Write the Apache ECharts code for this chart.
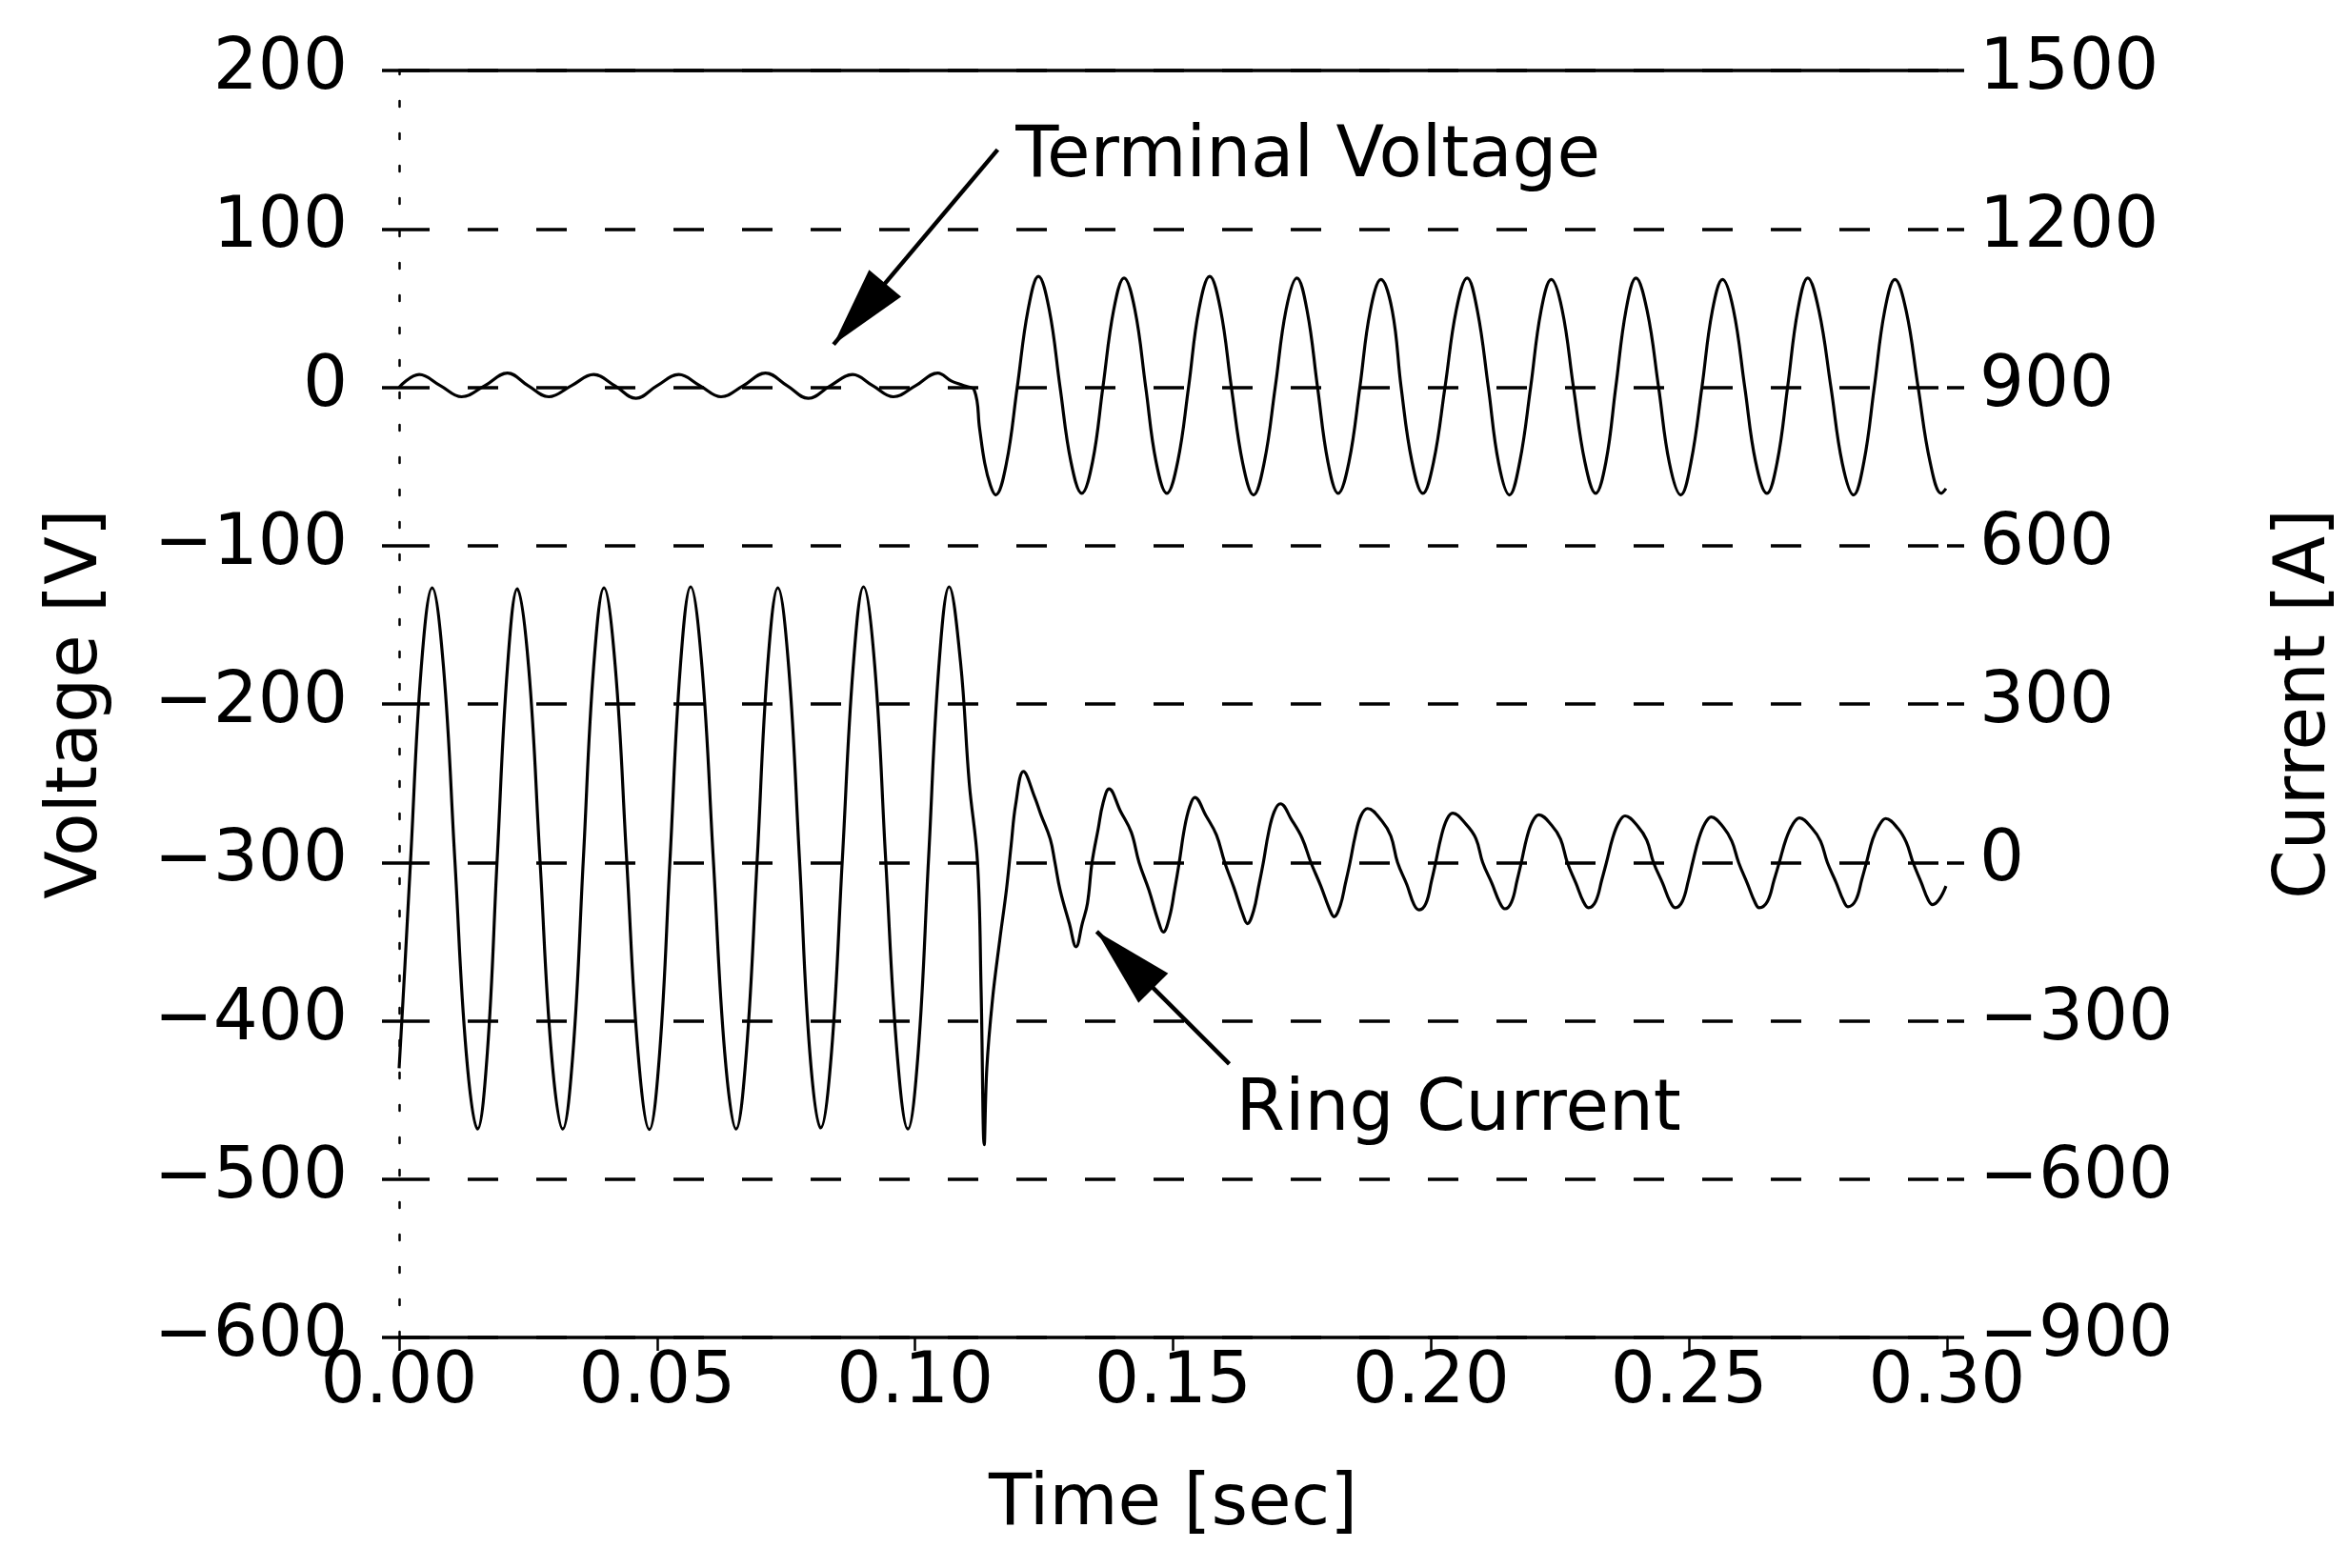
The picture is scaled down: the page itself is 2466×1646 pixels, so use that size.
<!DOCTYPE html>
<html>
<head>
<meta charset="utf-8">
<title>Terminal Voltage and Ring Current</title>
<script src="https://cdn.jsdelivr.net/npm/echarts@6/dist/echarts.min.js"></script>
<style>
  html, body { margin: 0; padding: 0; background: #ffffff; }
  #chart { width: 2466px; height: 1646px; }
</style>
</head>
<body>
<div id="chart"></div>
<script>
// Axis ranges / tick steps
const timeTicks = [0, 0.05, 0.10, 0.15, 0.20, 0.25, 0.30];
const voltageTicks = [-600, -500, -400, -300, -200, -100, 0, 100, 200];
const currentTicks = [-900, -600, -300, 0, 300, 600, 900, 1200, 1500];

// Terminal voltage [s, V] before the fault
const voltagePreFault = [
  [0.0000, 0], [0.0039, 8], [0.0080, 1], [0.0121, -6], [0.0166, 1],
  [0.0210, 9], [0.0250, 1], [0.0290, -6], [0.0334, 1], [0.0377, 8],
  [0.0418, 1], [0.0459, -7], [0.0500, 1], [0.0542, 8], [0.0583, 1],
  [0.0624, -6], [0.0667, 1], [0.0710, 9], [0.0752, 1], [0.0793, -7],
  [0.0836, 1], [0.0879, 8], [0.0918, 1], [0.0958, -6], [0.1001, 1],
  [0.1044, 9], [0.1070, 4], [0.1094, 1], [0.1115, -2]
];

// Terminal voltage [s, V] after the fault
const voltagePostFault = [
  [0.1125, -26], [0.1135, -48], [0.1146, -62], [0.1156, -68],
  [0.1177, -48], [0.1198, 0], [0.1219, 49], [0.1239, 70], [0.1260, 49], [0.1281, 0], [0.1302, -47], [0.1323, -67],
  [0.1344, -47], [0.1364, 0], [0.1385, 49], [0.1405, 69], [0.1426, 49], [0.1447, 0], [0.1467, -47], [0.1488, -67],
  [0.1509, -47], [0.1530, 0], [0.1550, 49], [0.1571, 70], [0.1592, 49], [0.1613, 0], [0.1635, -48], [0.1656, -68],
  [0.1677, -47], [0.1698, 0], [0.1719, 49], [0.1740, 69], [0.1760, 48], [0.1780, 0], [0.1800, -47], [0.1820, -67],
  [0.1841, -47], [0.1862, 0], [0.1882, 48], [0.1903, 68], [0.1925, 48], [0.1942, 0], [0.1963, -47], [0.1984, -67],
  [0.2005, -47], [0.2027, 0], [0.2049, 49], [0.2070, 69], [0.2090, 48], [0.2111, 0], [0.2131, -48], [0.2152, -68],
  [0.2172, -47], [0.2193, 0], [0.2213, 48], [0.2233, 68], [0.2254, 49], [0.2276, 0], [0.2298, -47], [0.2319, -67],
  [0.2339, -47], [0.2358, 0], [0.2378, 49], [0.2397, 69], [0.2419, 48], [0.2441, 0], [0.2462, -48], [0.2484, -68],
  [0.2504, -47], [0.2525, 0], [0.2545, 48], [0.2565, 68], [0.2586, 49], [0.2608, 0], [0.2629, -47], [0.2651, -67],
  [0.2671, -47], [0.2691, 0], [0.2711, 49], [0.2730, 69], [0.2752, 48], [0.2775, 0], [0.2797, -48], [0.2819, -68],
  [0.2839, -47], [0.2859, 0], [0.2879, 48], [0.2899, 68], [0.2921, 48], [0.2944, 0], [0.2967, -47], [0.2989, -67],
  [0.2998, -64]
];

// Ring current [s, A] before the fault
const currentPreFault = [
  [0.0000, -390], [0.0011, -200], [0.0022, 0], [0.0043, 370], [0.0064, 520],
  [0.0086, 370], [0.0108, 5], [0.0130, -360], [0.0152, -505],
  [0.0171, -360], [0.0190, 5], [0.0210, 370], [0.0229, 518],
  [0.0251, 370], [0.0273, 5], [0.0295, -360], [0.0317, -505],
  [0.0337, -360], [0.0357, 5], [0.0377, 370], [0.0397, 520],
  [0.0419, 370], [0.0441, 5], [0.0463, -360], [0.0485, -506],
  [0.0505, -360], [0.0525, 5], [0.0545, 370], [0.0565, 522],
  [0.0587, 370], [0.0609, 5], [0.0631, -360], [0.0653, -505],
  [0.0673, -360], [0.0694, 5], [0.0714, 370], [0.0734, 520],
  [0.0755, 370], [0.0776, 5], [0.0796, -360], [0.0817, -503],
  [0.0838, -360], [0.0859, 5], [0.0880, 370], [0.0900, 522],
  [0.0922, 370], [0.0943, 5], [0.0965, -360], [0.0986, -505],
  [0.1006, -360], [0.1026, 5], [0.1046, 370], [0.1066, 522],
  [0.1088, 380], [0.1105, 150], [0.1121, 0]
];

// Ring current [s, A] at and after the fault
const currentPostFault = [
  [0.1128, -244], [0.1134, -535], [0.1139, -390], [0.1150, -260], [0.1164, -148],
  [0.1177, -52], [0.1186, 31], [0.1195, 110], [0.1210, 172],
  [0.1232, 123], [0.1244, 90], [0.1262, 44], [0.1271, 0], [0.1281, -52], [0.1299, -116], [0.1312, -160],
  [0.1324, -116], [0.1334, -78], [0.1343, 0], [0.1355, 64], [0.1364, 111], [0.1376, 139],
  [0.1398, 97], [0.1419, 57], [0.1434, 0], [0.1453, -52], [0.1471, -110], [0.1481, -132],
  [0.1493, -104], [0.1503, -52], [0.1512, 0], [0.1522, 64], [0.1532, 105], [0.1542, 123],
  [0.1564, 88], [0.1584, 52], [0.1600, 0], [0.1618, -48], [0.1635, -98], [0.1644, -116],
  [0.1656, -92], [0.1666, -45], [0.1675, 0], [0.1685, 56], [0.1696, 96], [0.1708, 111],
  [0.1730, 80], [0.1750, 46], [0.1767, 0], [0.1786, -44], [0.1803, -88], [0.1812, -103],
  [0.1824, -82], [0.1834, -40], [0.1843, 0], [0.1853, 50], [0.1864, 88], [0.1877, 102],
  [0.1905, 78], [0.1922, 50], [0.1935, 0], [0.1953, -42], [0.1967, -80], [0.1977, -90],
  [0.1990, -78], [0.2001, -35], [0.2009, 0], [0.2020, 50], [0.2031, 82], [0.2042, 93],
  [0.2068, 72], [0.2087, 45], [0.2100, 0], [0.2118, -40], [0.2133, -76], [0.2143, -88],
  [0.2156, -75], [0.2167, -33], [0.2175, 0], [0.2186, 48], [0.2197, 78], [0.2209, 90],
  [0.2234, 70], [0.2251, 44], [0.2264, 0], [0.2281, -40], [0.2295, -74], [0.2305, -86],
  [0.2319, -74], [0.2331, -33], [0.2340, 0], [0.2352, 46], [0.2364, 76], [0.2376, 88],
  [0.2401, 68], [0.2418, 42], [0.2431, 0], [0.2449, -40], [0.2463, -74], [0.2473, -86],
  [0.2487, -74], [0.2499, -33], [0.2507, 0], [0.2519, 45], [0.2531, 74], [0.2543, 86],
  [0.2567, 66], [0.2583, 40], [0.2596, 0], [0.2613, -40], [0.2627, -74], [0.2636, -86],
  [0.2652, -74], [0.2665, -33], [0.2675, 0], [0.2688, 44], [0.2701, 72], [0.2714, 84],
  [0.2738, 65], [0.2755, 40], [0.2768, 0], [0.2785, -38], [0.2799, -72], [0.2808, -84],
  [0.2823, -72], [0.2835, -32], [0.2844, 0], [0.2856, 44], [0.2869, 71], [0.2881, 83],
  [0.2905, 64], [0.2921, 38], [0.2934, 0], [0.2950, -38], [0.2963, -70], [0.2972, -80],
  [0.2985, -70], [0.2998, -45]
];

// Callout arrows: [tail, tip] in data units, and label anchors
const voltageArrow = [[0.1160, 150], [0.0842, 27]];
const voltageLabel = [0.1194, 145];
const currentArrow = [[0.1609, -382], [0.1352, -131]];
const currentLabel = [0.1621, -472];

const FONT = 'DejaVu Sans';
const TEXT_SIZE = 74;
const HEAD_W = 44;
const HEAD_L = 84;
const withMinus = v => String(v).replace('-', '\u2212');

const step = arr => arr[1] - arr[0];

const chart = echarts.init(document.getElementById('chart'), null, { renderer: 'canvas' });

// Straight callout arrow with a filled head whose point sits on the tip coordinate
const arrowLine = (pts) => ({
  silent: true,
  animation: false,
  symbol: ['none', 'triangle'],
  symbolSize: [HEAD_W, HEAD_L],
  symbolOffset: [[0, 0], [0, HEAD_L / 2]],
  lineStyle: { color: '#000', width: 4.5, type: 'solid' },
  itemStyle: { color: '#000' },
  label: { show: false },
  emphasis: { disabled: true },
  data: [[{ coord: pts[0] }, { coord: pts[1] }]]
});

const calloutText = (coord, text) => ({
  silent: true,
  animation: false,
  symbol: 'circle',
  symbolSize: 1,
  itemStyle: { color: 'rgba(0,0,0,0)' },
  label: {
    show: true,
    position: 'right',
    distance: 0,
    formatter: text,
    color: '#000',
    fontFamily: FONT,
    fontSize: TEXT_SIZE
  },
  data: [{ coord: coord }]
});

const option = {
  backgroundColor: '#ffffff',
  animation: false,
  textStyle: { fontFamily: FONT, color: '#000' },
  grid: { left: 419, right: 421, top: 74, bottom: 242, containLabel: false },
  xAxis: [
    {
      type: 'value',
      position: 'bottom',
      min: timeTicks[0],
      max: timeTicks[timeTicks.length - 1],
      interval: step(timeTicks),
      axisLine: { show: true, onZero: false, lineStyle: { color: '#000', width: 3.5 } },
      axisTick: { show: true, inside: false, length: 14, lineStyle: { color: '#000', width: 2.5 } },
      axisLabel: {
        color: '#000', fontFamily: FONT, fontSize: TEXT_SIZE, margin: 12,
        formatter: v => v.toFixed(2)
      },
      splitLine: { show: false },
      name: 'Time [sec]',
      nameLocation: 'middle',
      nameGap: 140,
      nameTextStyle: { color: '#000', fontFamily: FONT, fontSize: TEXT_SIZE }
    },
    {
      type: 'value',
      position: 'top',
      min: timeTicks[0],
      max: timeTicks[timeTicks.length - 1],
      interval: step(timeTicks),
      axisLine: { show: true, onZero: false, lineStyle: { color: '#000', width: 3.5 } },
      axisTick: { show: false },
      axisLabel: { show: false },
      splitLine: { show: false }
    }
  ],
  yAxis: [
    {
      type: 'value',
      position: 'left',
      min: voltageTicks[0],
      max: voltageTicks[voltageTicks.length - 1],
      interval: step(voltageTicks),
      axisLine: { show: true, onZero: false, lineStyle: { color: '#000', width: 2.5, type: [6, 28] } },
      axisTick: { show: true, inside: false, length: 18, lineStyle: { color: '#000', width: 3.5 } },
      axisLabel: { color: '#000', fontFamily: FONT, fontSize: TEXT_SIZE, margin: 54, formatter: withMinus },
      splitLine: { show: true, lineStyle: { color: '#000', width: 3.5, type: [32, 40] } },
      name: 'Voltage [V]',
      nameLocation: 'middle',
      nameRotate: 90,
      nameGap: 300,
      nameTextStyle: { color: '#000', fontFamily: FONT, fontSize: TEXT_SIZE }
    },
    {
      type: 'value',
      position: 'right',
      min: currentTicks[0],
      max: currentTicks[currentTicks.length - 1],
      interval: step(currentTicks),
      axisLine: { show: false, onZero: false },
      axisTick: { show: true, inside: false, length: 18, lineStyle: { color: '#000', width: 3.5 } },
      axisLabel: { color: '#000', fontFamily: FONT, fontSize: TEXT_SIZE, margin: 34, formatter: withMinus },
      splitLine: { show: false },
      name: 'Current [A]',
      nameLocation: 'middle',
      nameRotate: 90,
      nameGap: 340,
      nameTextStyle: { color: '#000', fontFamily: FONT, fontSize: TEXT_SIZE }
    }
  ],
  series: [
    {
      name: 'Terminal Voltage',
      type: 'line',
      xAxisIndex: 0,
      yAxisIndex: 0,
      data: voltagePreFault.concat(voltagePostFault),
      showSymbol: false,
      smooth: 0.4,
      lineStyle: { color: '#000', width: 3.2 },
      emphasis: { disabled: true },
      markLine: arrowLine(voltageArrow),
      markPoint: calloutText(voltageLabel, 'Terminal Voltage'),
      z: 3
    },
    {
      name: 'Ring Current',
      type: 'line',
      xAxisIndex: 0,
      yAxisIndex: 1,
      data: currentPreFault.concat(currentPostFault),
      showSymbol: false,
      smooth: 0.4,
      lineStyle: { color: '#000', width: 3.2 },
      emphasis: { disabled: true },
      markLine: arrowLine(currentArrow),
      markPoint: calloutText(currentLabel, 'Ring Current'),
      z: 3
    }
  ]
};

chart.setOption(option);
</script>
</body>
</html>
